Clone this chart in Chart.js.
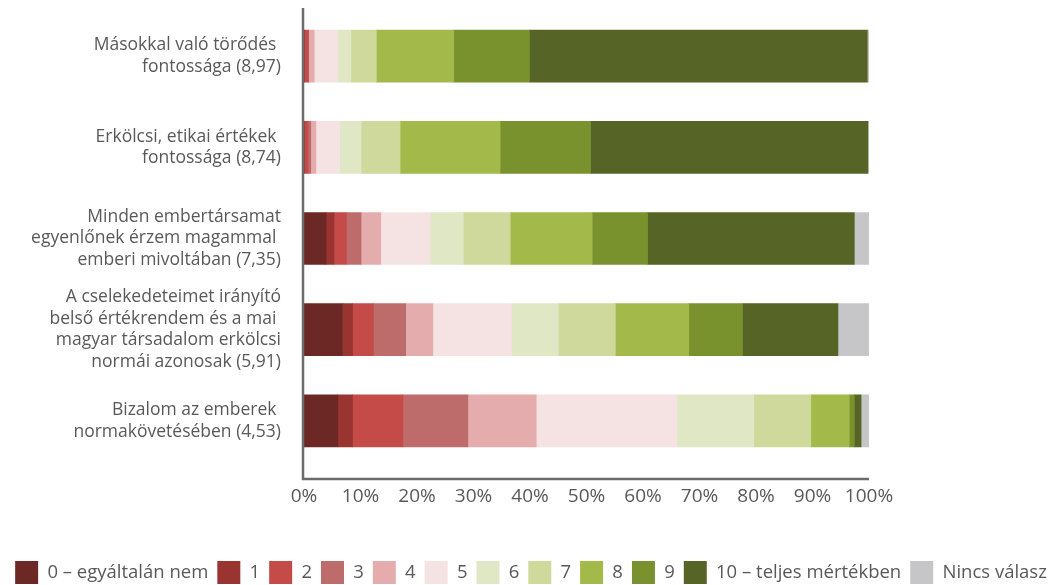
<!DOCTYPE html>
<html lang="hu">
  <head>
    <meta charset="UTF-8" />
    <script src="https://cdn.jsdelivr.net/npm/chart.js"></script>
    <title>Értékek</title>
    <style>
      * {
        padding: 0;
        margin: 0;
        box-sizing: border-box;
      }
      body {
        background: #fff;
      }
      .wrap {
        width: 1062px;
        height: 585px;
      }
    </style>
  </head>
  <body>
    <div class="wrap">
      <canvas id="myChart"></canvas>
    </div>
    <script>
      // kategóriák (y tengely)
      const categories = [
        ['Másokkal való törődés ', 'fontossága (8,97)'],
        ['Erkölcsi, etikai értékek ', 'fontossága (8,74)'],
        ['Minden embertársamat', 'egyenlőnek érzem magammal ', 'emberi mivoltában (7,35)'],
        ['A cselekedeteimet irányító', 'belső értékrendem és a mai ', 'magyar társadalom erkölcsi', 'normái azonosak (5,91)'],
        ['Bizalom az emberek ', 'normakövetésében (4,53)'],
      ];
      const scaleLabels = ['0 – egyáltalán nem', '1', '2', '3', '4', '5', '6', '7', '8', '9', '10 – teljes mértékben', 'Nincs válasz'];
      const colors = ['#6b2825', '#9a3430', '#c44b48', '#be6b6b', '#e4acad', '#f5e3e4', '#e0e7c4', '#cfd99c', '#a3ba4a', '#7a922d', '#566526', '#c6c6c8'];
      const xTicks = ['0%', '10%', '20%', '30%', '40%', '50%', '60%', '70%', '80%', '90%', '100%'];

      // megoszlás (%) soronként, 0..10 és nincs válasz
      const torodes = [0, 0, 0.8, 0, 1.0, 4.2, 2.3, 4.5, 13.7, 13.4, 59.8, 0.3];
      const erkolcsi = [0, 0, 0.7, 0.5, 0.9, 4.2, 3.8, 6.9, 17.7, 16.0, 49.1, 0.2];
      const egyenlo = [3.9, 1.4, 2.2, 2.6, 3.5, 8.7, 5.9, 8.3, 14.5, 9.8, 36.6, 2.6];
      const ertekrend = [6.8, 1.8, 3.7, 5.7, 4.8, 13.9, 8.3, 10.1, 13.0, 9.5, 16.9, 5.5];
      const bizalom = [6.0, 2.6, 8.9, 11.5, 12.1, 24.9, 13.6, 10.1, 6.8, 0.9, 1.2, 1.4];
      const rows = [torodes, erkolcsi, egyenlo, ertekrend, bizalom];

      const font = 'Open Sans';
      const textColor = '#595959';

      const datasets = scaleLabels.map((lab, i) => ({
        label: lab,
        data: rows.map((r) => r[i]),
        backgroundColor: colors[i],
        borderWidth: 0,
        barThickness: 52,
      }));

      // tengelyvonalak kézzel, a minta szerint a rajzterületen túl is
      const axisLines = {
        id: 'axisLines',
        afterDatasetsDraw(chart) {
          const { ctx, chartArea } = chart;
          ctx.save();
          ctx.strokeStyle = '#6b6b6b';
          ctx.lineWidth = 2.5;
          ctx.beginPath();
          ctx.moveTo(chartArea.left - 1, 8);
          ctx.lineTo(chartArea.left - 1, 479);
          ctx.lineTo(chartArea.right, 479);
          ctx.stroke();
          ctx.restore();
        },
      };

      const config = {
        type: 'bar',
        data: { labels: categories, datasets: datasets },
        options: {
          indexAxis: 'y',
          responsive: true,
          maintainAspectRatio: false,
          animation: false,
          layout: { padding: { top: 10.5, right: 0, bottom: -9, left: 0 } },
          plugins: {
            tooltip: { enabled: false },
            legend: {
              position: 'bottom',
              labels: {
                boxWidth: 23,
                boxHeight: 23,
                padding: 9,
                color: textColor,
                font: { family: font, size: 18.5 },
              },
            },
          },
          scales: {
            x: {
              stacked: true,
              min: 0,
              max: 100,
              grid: { display: false, drawTicks: false },
              border: { display: false },
              afterFit: (s) => {
                s.height = 85.5;
              },
              ticks: {
                stepSize: 10,
                padding: 19,
                color: textColor,
                font: { family: font, size: 19 },
                callback: (v, i) => xTicks[i],
              },
            },
            y: {
              stacked: true,
              grid: { display: false, drawTicks: false },
              border: { display: false },
              afterFit: (s) => {
                s.width = 304;
                s.paddingTop = 0;
                s.paddingBottom = 0;
              },
              ticks: {
                autoSkip: false,
                padding: 23,
                color: textColor,
                font: { family: font, size: 17.5, lineHeight: 1.23 },
              },
            },
            // üres tengely jobbra, csak a helyért
            yRight: {
              position: 'right',
              grid: { display: false, drawTicks: false },
              border: { display: false },
              ticks: { display: false },
              afterFit: (s) => {
                s.width = 193;
              },
            },
          },
        },
        plugins: [axisLines],
      };

      const myChart = new Chart(document.getElementById('myChart'), config);
    </script>
  </body>
</html>
